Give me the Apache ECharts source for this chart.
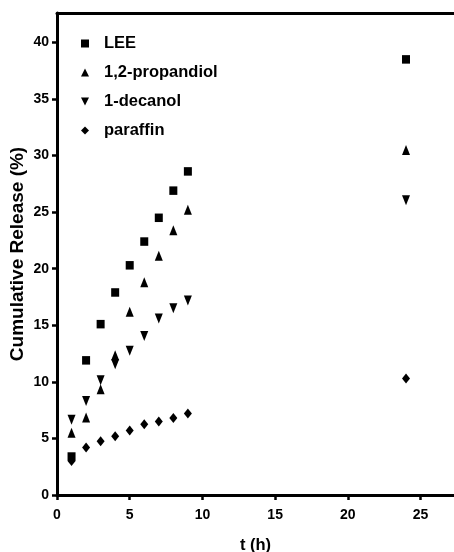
<!DOCTYPE html>
<html>
<head>
<meta charset="utf-8">
<script src="https://cdn.jsdelivr.net/npm/echarts@6/dist/echarts.min.js"></script>
<style>html,body{margin:0;padding:0;background:#fff;}#c{width:454px;height:552px;}</style>
</head>
<body>
<div id="c"></div>
<script>
var times = [1, 2, 3, 4, 5, 6, 7, 8, 9, 24];
var seriesNames = ['LEE', '1,2-propandiol', '1-decanol', 'paraffin'];
var lee = [3.4, 11.9, 15.1, 17.9, 20.3, 22.4, 24.5, 26.9, 28.6, 38.5];
var propandiol = [5.5, 6.85, 9.35, 12.35, 16.2, 18.8, 21.15, 23.4, 25.2, 30.5];
var decanol = [6.65, 8.3, 10.15, 11.55, 12.75, 14.05, 15.6, 16.5, 17.2, 26.05];
var paraffin = [3.0, 4.2, 4.75, 5.2, 5.7, 6.25, 6.5, 6.8, 7.2, 10.3];
var xTicks = [0, 5, 10, 15, 20, 25];
var yTicks = [0, 5, 10, 15, 20, 25, 30, 35, 40];

function pairs(ys) { return times.map(function (t, i) { return [t, ys[i]]; }); }

var FONT = '"Liberation Sans", Arial, sans-serif';
var chart = echarts.init(document.getElementById('c'), null, { renderer: 'canvas' });
var symbols = ['rect', 'triangle', 'path://M0,0 L10,0 L5,10 Z', 'diamond'];
var sizes = [[8, 8.5], [8, 10], [8, 10], [8, 10]];
var datas = [lee, propandiol, decanol, paraffin];

chart.setOption({
  animation: false,
  backgroundColor: '#fff',
  grid: { left: 57, right: 0, top: 13, bottom: 57, containLabel: false, outerBoundsMode: 'none' },
  legend: {
    orient: 'vertical',
    left: 76,
    top: 30,
    itemWidth: 8,
    itemHeight: 8,
    itemGap: 12,
    data: seriesNames.map(function (n, i) {
      return { name: n, icon: symbols[i], itemStyle: { color: '#000', opacity: 1 } };
    }),
    textStyle: { color: '#000', fontFamily: FONT, fontWeight: 'bold', fontSize: 16.5, padding: [0, 0, 0, 10] }
  },
  xAxis: [{
    type: 'value',
    min: 0,
    max: 27.3,
    interval: 5,
    name: 't (h)',
    nameLocation: 'middle',
    nameGap: 42,
    nameTextStyle: { color: '#000', fontFamily: FONT, fontWeight: 'bold', fontSize: 16.5 },
    splitLine: { show: false },
    axisLine: { onZero: false, lineStyle: { color: '#000', width: 3 } },
    axisTick: { length: 5, lineStyle: { color: '#000', width: 2.5 }, customValues: xTicks },
    axisLabel: { color: '#000', fontFamily: FONT, fontWeight: 'bold', fontSize: 14, margin: 13, customValues: xTicks }
  }, {
    type: 'value',
    position: 'top',
    min: 0,
    max: 27.3,
    splitLine: { show: false },
    axisLine: { onZero: false, lineStyle: { color: '#000', width: 3 } },
    axisTick: { show: false },
    axisLabel: { show: false }
  }],
  yAxis: {
    type: 'value',
    min: 0,
    max: 42.6,
    interval: 5,
    name: 'Cumulative Release (%)',
    nameLocation: 'middle',
    nameGap: 30,
    nameMoveOverlap: false,
    nameRotate: 90,
    nameTextStyle: { color: '#000', fontFamily: FONT, fontWeight: 'bold', fontSize: 19 },
    splitLine: { show: false },
    axisLine: { onZero: false, lineStyle: { color: '#000', width: 3 } },
    axisTick: { length: 5, lineStyle: { color: '#000', width: 2.5 }, customValues: yTicks },
    axisLabel: { color: '#000', fontFamily: FONT, fontWeight: 'bold', fontSize: 14, margin: 8, customValues: yTicks }
  },
  series: seriesNames.map(function (n, i) {
    return {
      name: n,
      type: 'scatter',
      xAxisIndex: 0,
      symbol: symbols[i],
      symbolSize: sizes[i],
      itemStyle: { color: '#000', opacity: 1 },
      data: pairs(datas[i])
    };
  })
});
</script>
</body>
</html>
